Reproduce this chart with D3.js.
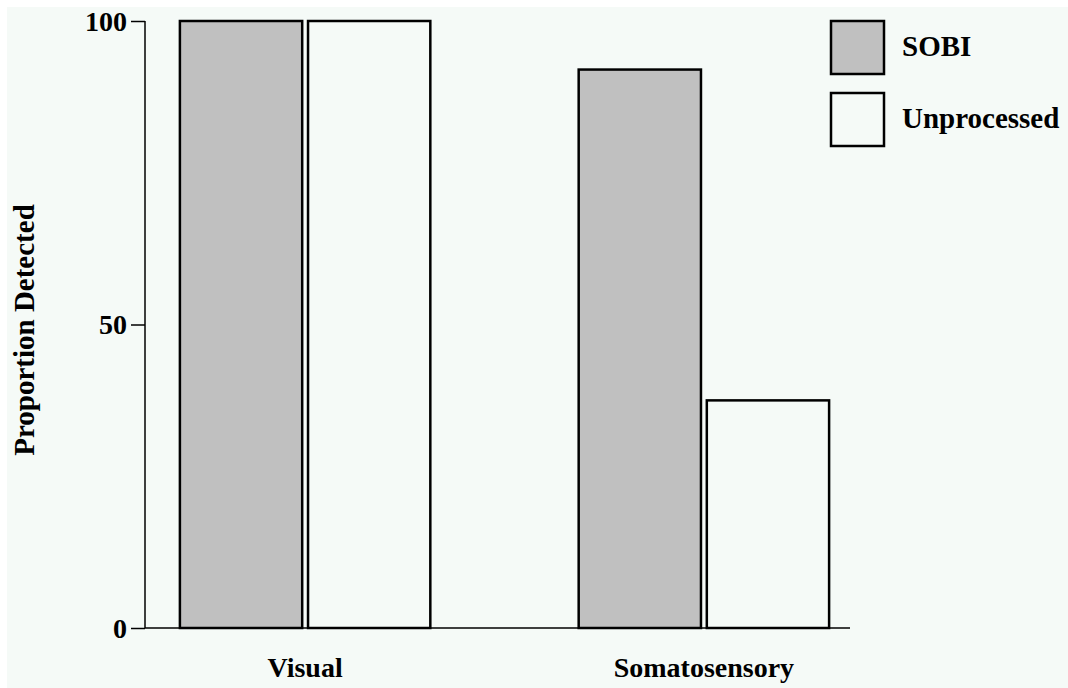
<!DOCTYPE html>
<html>
<head>
<meta charset="utf-8">
<script src="https://cdn.jsdelivr.net/npm/d3@7"></script>
<style>
  body { margin: 0; background: #ffffff; }
  svg { display: block; }
  text { font-family: "Liberation Serif", "Times New Roman", serif; font-weight: bold; fill: #000; }
</style>
</head>
<body>
<svg></svg>
<script>
// chart data
let categories = ["Visual", "Somatosensory"];
let series = ["SOBI", "Unprocessed"];
let sobiValues = [100, 92];
let unprocessedValues = [100, 37.5];
let yTicks = [0, 50, 100];

let width = 1068;
let height = 688;
let bgColor = "#f5faf7";
let colors = { "SOBI": "#c0c0c0", "Unprocessed": bgColor };

let svg = d3.select("svg")
  .attr("width", width)
  .attr("height", height);

// light background panel (white frame on top and left)
svg.append("rect")
   .attr("x", 7).attr("y", 7)
   .attr("width", width - 7).attr("height", height - 7)
   .attr("fill", bgColor);

let rows = categories.map((c, i) => ({
  category: c,
  SOBI: sobiValues[i],
  Unprocessed: unprocessedValues[i]
}));

// scales
let yScale = d3.scaleLinear()
  .domain([0, 100])
  .range([628, 21]);

let xScale = d3.scaleBand()
  .domain(categories)
  .range([145, 864])
  .paddingInner(0.367)
  .paddingOuter(0.085);

let xInner = d3.scaleBand()
  .domain(series)
  .range([0, xScale.bandwidth()])
  .paddingInner(0.03);

// y axis
let yAxis = d3.axisLeft(yScale)
  .tickValues(yTicks)
  .tickSize(14)
  .tickPadding(4)
  .tickFormat(d3.format("d"));

let yG = svg.append("g")
  .attr("transform", "translate(145, 0)")
  .call(yAxis);
yG.select(".domain").remove();
yG.selectAll("line").attr("stroke", "#000").attr("stroke-width", 1.5);
yG.selectAll("text")
  .attr("font-size", 28)
  .attr("font-family", "Liberation Serif, serif")
  .attr("font-weight", "bold")
  .attr("dy", "0.33em");

svg.append("line")
   .attr("x1", 145).attr("x2", 145)
   .attr("y1", yScale(100)).attr("y2", yScale(0))
   .attr("stroke", "#000").attr("stroke-width", 1.5);

// x axis line
svg.append("line")
   .attr("x1", 145).attr("x2", 850)
   .attr("y1", yScale(0)).attr("y2", yScale(0))
   .attr("stroke", "#000").attr("stroke-width", 1.5);

// bars
let groups = svg.selectAll(".group")
  .data(rows)
  .enter()
  .append("g")
  .attr("class", "group")
  .attr("transform", (d) => "translate(" + xScale(d.category) + ",0)");

groups.selectAll("rect")
  .data((d) => series.map((s) => ({ key: s, value: d[s] })))
  .enter()
  .append("rect")
  .attr("x", (d) => xInner(d.key) + 1)
  .attr("y", (d) => yScale(d.value))
  .attr("width", xInner.bandwidth() - 2)
  .attr("height", (d) => yScale(0) - yScale(d.value))
  .attr("fill", (d) => colors[d.key])
  .attr("stroke", "#000")
  .attr("stroke-width", 2.5);

// category labels
svg.selectAll(".xlabel")
  .data(categories)
  .enter()
  .append("text")
  .attr("class", "xlabel")
  .attr("x", (d) => xScale(d) + xScale.bandwidth() / 2)
  .attr("y", 677)
  .attr("text-anchor", "middle")
  .attr("font-size", 28)
  .text((d) => d);

// y axis title
svg.append("text")
   .attr("transform", "translate(34, 330) rotate(-90)")
   .attr("text-anchor", "middle")
   .attr("font-size", 29)
   .text("Proportion Detected");

// legend
let legend = svg.selectAll(".legend")
  .data(series)
  .enter()
  .append("g")
  .attr("class", "legend")
  .attr("transform", (d, i) => "translate(831," + (21 + i * 72) + ")");

legend.append("rect")
  .attr("width", 53)
  .attr("height", 53)
  .attr("fill", (d) => colors[d])
  .attr("stroke", "#000")
  .attr("stroke-width", 2.5);

legend.append("text")
  .attr("x", 71)
  .attr("y", 35)
  .attr("font-size", 29)
  .text((d) => d);
</script>
</body>
</html>
